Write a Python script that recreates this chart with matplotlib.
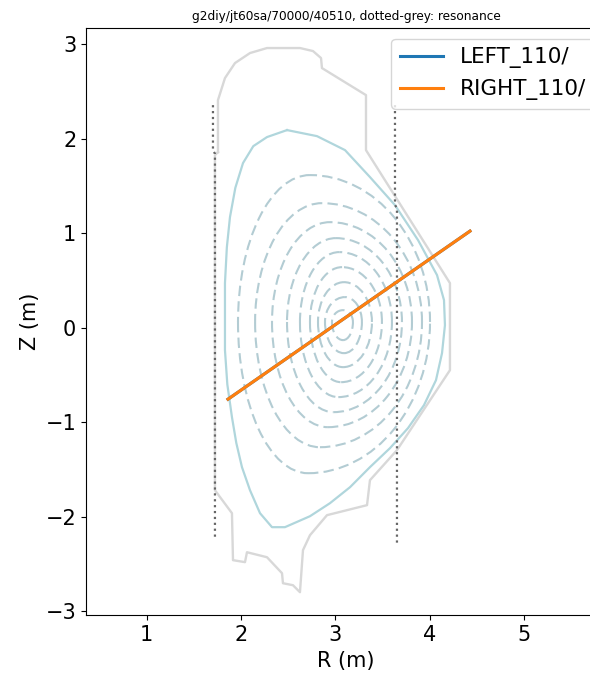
import matplotlib.pyplot as plt
from matplotlib.patches import Arc

# wall outline (R, Z in m)
wall_R = [1.756, 1.756, 1.830, 1.936, 2.095, 2.275, 2.624, 2.762, 2.847, 2.857,
          3.323, 3.323, 4.212, 4.212, 3.651, 3.365, 3.334, 2.910, 2.730, 2.656,
          2.624, 2.550, 2.444, 2.434, 2.275, 2.063, 2.042, 1.915, 1.904, 1.724,
          1.724, 1.756]
wall_Z = [1.857, 2.407, 2.640, 2.799, 2.905, 2.958, 2.958, 2.926, 2.852, 2.746,
          2.460, 1.878, 0.471, -0.450, -1.296, -1.614, -1.878, -1.984, -2.196, -2.354,
          -2.799, -2.725, -2.704, -2.598, -2.429, -2.376, -2.481, -2.460, -1.963, -1.720,
          1.825, 1.857]

# last closed flux surface
lcfs_R = [2.487, 2.804, 3.101, 3.365, 3.630, 3.874, 4.075, 4.149, 4.159, 4.128,
          4.064, 3.937, 3.768, 3.577, 3.365, 3.154, 2.942, 2.730, 2.465, 2.328,
          2.201, 2.095, 2.010, 1.950, 1.904, 1.855, 1.830, 1.830, 1.850, 1.883,
          1.940, 2.021, 2.130, 2.275, 2.487]
lcfs_Z = [2.090, 2.026, 1.878, 1.593, 1.296, 0.926, 0.556, 0.291, 0.026, -0.270,
          -0.556, -0.820, -1.063, -1.275, -1.476, -1.688, -1.857, -1.995, -2.111, -2.111,
          -1.963, -1.720, -1.476, -1.220, -0.947, -0.600, -0.238, 0.471, 0.850, 1.169,
          1.480, 1.741, 1.920, 2.016, 2.090]

# inner flux surfaces, extents of each one
surf_Rin = [1.968, 2.149, 2.328, 2.487, 2.624, 2.730, 2.815, 2.889, 2.963]
surf_Rout = [4.001, 3.916, 3.810, 3.704, 3.598, 3.492, 3.386, 3.280, 3.185]
surf_Ztop = [1.614, 1.317, 1.116, 0.947, 0.799, 0.640, 0.481, 0.323, 0.185]
surf_Zbot = [-1.540, -1.265, -1.053, -0.894, -0.735, -0.577, -0.418, -0.270, -0.132]
surf_Rtop = [2.730, 2.857, 2.942, 3.005, 3.040, 3.070, 3.090, 3.100, 3.080]
surf_Rbot = [2.709, 2.836, 2.920, 2.980, 3.030, 3.060, 3.080, 3.090, 3.080]
surf_Zmid = 0.06

# resonance lines
resL_R = [1.703, 1.703, 1.724, 1.724]
resL_Z = [2.354, 1.878, 1.840, -2.249]
resR_R = [3.630, 3.630, 3.651, 3.651]
resR_Z = [2.354, 1.300, 1.260, -2.280]

# beams
ray_R = [1.862, 4.424]
ray_Z = [-0.757, 1.021]

fig = plt.figure(figsize=(5.9, 6.73), dpi=100)
ax = fig.add_axes([0.1466, 0.0862, 0.8805, 0.8722])

ax.plot(wall_R, wall_Z, color='#d8d8d8', lw=1.7)
ax.plot(lcfs_R, lcfs_Z, color='#b0d6dc', lw=1.6)

# dashed surfaces drawn as four quarter arcs
dash = (0, (5, 2.5))
col = '#b3ccd3'
for i in range(len(surf_Rin)):
    top = surf_Ztop[i] - surf_Zmid
    bot = surf_Zmid - surf_Zbot[i]
    ax.add_patch(Arc((surf_Rtop[i], surf_Zmid), 2 * (surf_Rout[i] - surf_Rtop[i]), 2 * top,
                     theta1=0, theta2=90, color=col, lw=1.5, linestyle=dash))
    ax.add_patch(Arc((surf_Rtop[i], surf_Zmid), 2 * (surf_Rtop[i] - surf_Rin[i]), 2 * top,
                     theta1=90, theta2=180, color=col, lw=1.5, linestyle=dash))
    ax.add_patch(Arc((surf_Rbot[i], surf_Zmid), 2 * (surf_Rbot[i] - surf_Rin[i]), 2 * bot,
                     theta1=180, theta2=270, color=col, lw=1.5, linestyle=dash))
    ax.add_patch(Arc((surf_Rbot[i], surf_Zmid), 2 * (surf_Rout[i] - surf_Rbot[i]), 2 * bot,
                     theta1=270, theta2=360, color=col, lw=1.5, linestyle=dash))

ax.plot(resL_R, resL_Z, color='#666666', lw=1.6, linestyle=':')
ax.plot(resR_R, resR_Z, color='#666666', lw=1.6, linestyle=':')

ax.plot(ray_R, ray_Z, color='#1f77b4', lw=2.2, label='LEFT_110/')
ax.plot(ray_R, ray_Z, color='#ff7f0e', lw=2.2, label='RIGHT_110/')

ax.set_xlim(0.364, 5.864)
ax.set_ylim(-3.04, 3.17)
ax.set_xticks([1, 2, 3, 4, 5])
ax.set_yticks([-3, -2, -1, 0, 1, 2, 3])
ax.tick_params(labelsize=15, length=3.8)
ax.set_xlabel('R (m)', fontsize=15)
ax.set_ylabel('Z (m)', fontsize=15)
ax.set_title('g2diy/jt60sa/70000/40510, dotted-grey: resonance', fontsize=8.7)
ax.legend(loc='upper right', fontsize=15.5)

fig.savefig('out.png', dpi=100)
